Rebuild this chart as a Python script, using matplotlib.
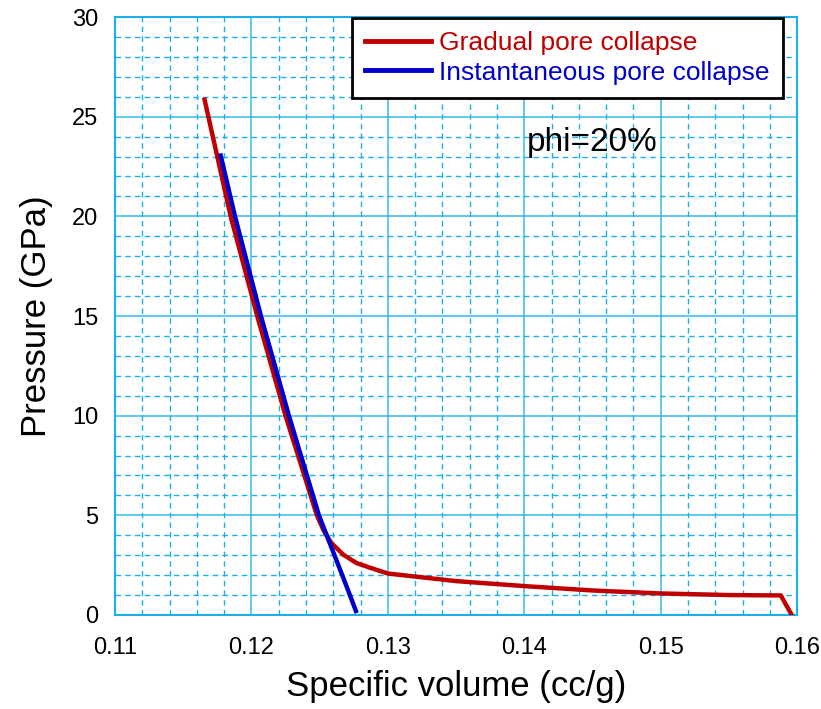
import matplotlib.pyplot as plt
from matplotlib.ticker import MultipleLocator

plt.rcParams['font.family'] = ['Liberation Sans', 'DejaVu Sans']

# gradual pore collapse curve (specific volume, pressure)
gradual_v = [0.11657, 0.11848, 0.12043, 0.1225, 0.1248, 0.12532, 0.12588, 0.12673,
             0.12772, 0.1287, 0.1300, 0.1350, 0.1400, 0.1450, 0.1500,
             0.1550, 0.1588, 0.1596]
gradual_p = [25.85, 20.0, 15.0, 10.0, 5.0, 4.2, 3.6, 3.03,
             2.6, 2.37, 2.08, 1.7, 1.45, 1.23, 1.08,
             1.0, 0.98, 0.0]

# instantaneous pore collapse curve
instant_v = [0.11775, 0.1188, 0.1207, 0.12275, 0.12495, 0.1268, 0.12766]
instant_p = [23.05, 20.0, 15.0, 10.0, 5.0, 1.75, 0.2]

grid_blue = '#1CB0E8'

fig = plt.figure(figsize=(8.21, 7.09), dpi=100)
ax = fig.add_axes([0.140, 0.1326, 0.831, 0.8434])

ax.plot(gradual_v, gradual_p, color='#C00000', linewidth=3.2, label='Gradual pore collapse', zorder=3)
ax.plot(instant_v, instant_p, color='#0000CC', linewidth=3.2, label='Instantaneous pore collapse', zorder=4)

ax.set_xlim(0.11, 0.16)
ax.set_ylim(0, 30)
ax.xaxis.set_major_locator(MultipleLocator(0.01))
ax.xaxis.set_minor_locator(MultipleLocator(0.002))
ax.yaxis.set_major_locator(MultipleLocator(5))
ax.yaxis.set_minor_locator(MultipleLocator(1))

ax.grid(which='major', color=grid_blue, linewidth=1.3, linestyle='-', alpha=0.75)
ax.grid(which='minor', color=grid_blue, linewidth=1.0, linestyle=(0, (4, 3)))
ax.set_axisbelow(True)

for sp in ax.spines.values():
    sp.set_color(grid_blue)
    sp.set_linewidth(1.5)

ax.tick_params(which='both', length=0, labelsize=17, pad=12)
ax.tick_params(axis='x', pad=16)
ax.set_xticks([0.11, 0.12, 0.13, 0.14, 0.15, 0.16])
ax.set_xticklabels(['0.11', '0.12', '0.13', '0.14', '0.15', '0.16'])

ax.set_xlabel('Specific volume (cc/g)', fontsize=25, labelpad=8)
ax.set_ylabel('Pressure (GPa)', fontsize=25, labelpad=14)

ax.text(0.1402, 23.3, 'phi=20%', fontsize=24)

leg = ax.legend(loc='upper right', bbox_to_anchor=(0.979, 0.999), fontsize=19,
                labelcolor='linecolor', fancybox=False, framealpha=1,
                edgecolor='black', handlelength=2.5, borderpad=0.5,
                labelspacing=0.22, handletextpad=0.3, borderaxespad=0)
leg.get_frame().set_linewidth(2)
for line in leg.get_lines():
    line.set_linewidth(3.5)

fig.savefig('out.png', dpi=100)
